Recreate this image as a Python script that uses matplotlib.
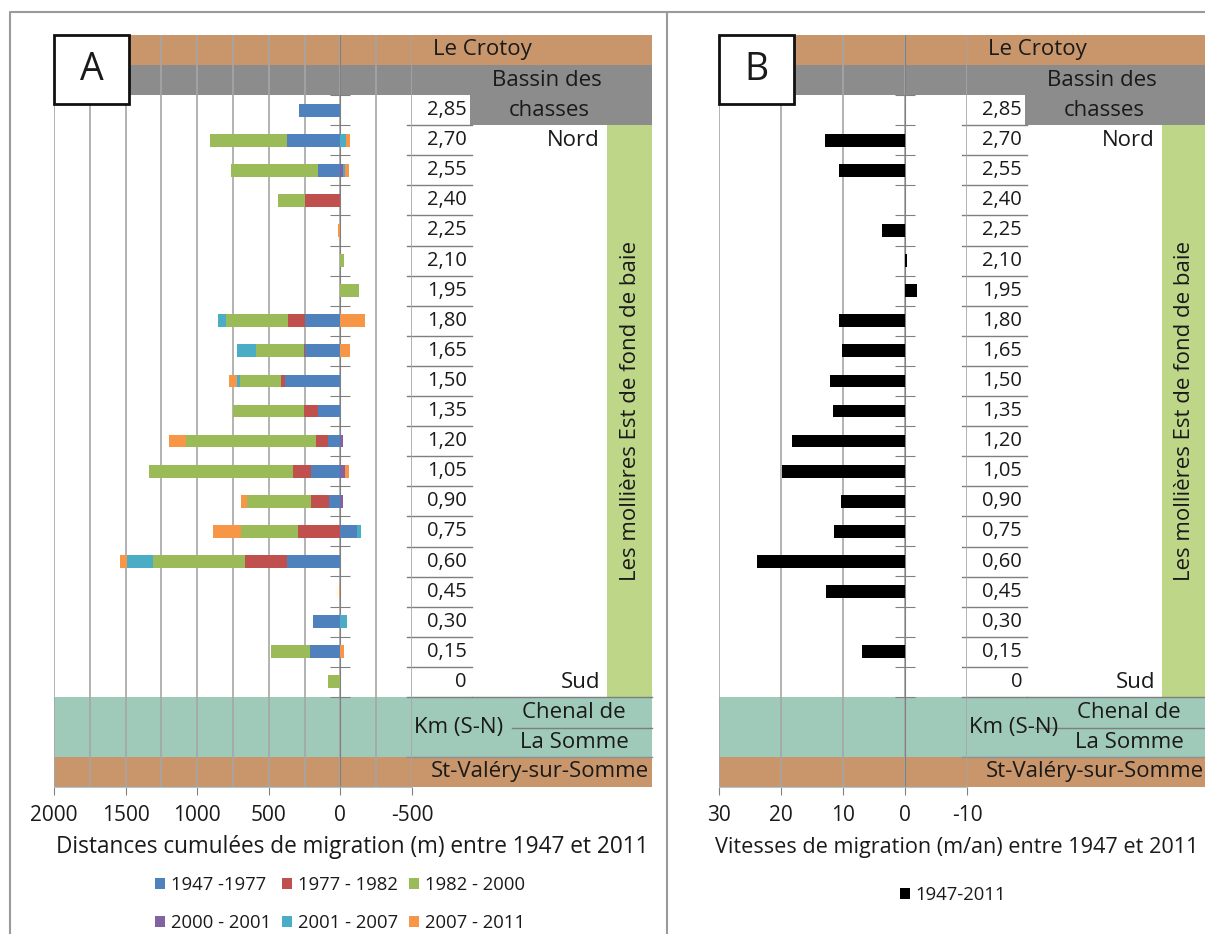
import numpy as np
import matplotlib
matplotlib.use("Agg")
import matplotlib.pyplot as plt
from matplotlib.patches import Rectangle

plt.rcParams['font.family'] = ['Open Sans', 'DejaVu Sans']

# km positions along the shore (S-N), top row first
km = [2.85, 2.70, 2.55, 2.40, 2.25, 2.10, 1.95, 1.80, 1.65, 1.50,
      1.35, 1.20, 1.05, 0.90, 0.75, 0.60, 0.45, 0.30, 0.15, 0.0]
km_labels = ['2,85', '2,70', '2,55', '2,40', '2,25', '2,10', '1,95', '1,80', '1,65', '1,50',
             '1,35', '1,20', '1,05', '0,90', '0,75', '0,60', '0,45', '0,30', '0,15', '0']

# Panel A: cumulated migration distances (m) per period
periods = ['1947 -1977', '1977 - 1982', '1982 - 2000', '2000 - 2001', '2001 - 2007', '2007 - 2011']
d_1947_1977 = [290, 372, 153, 0, 0, 0, 0, 245, 245, 389, 153, 89, 208, 83, -114, 372, 0, 194, 214, 0]
d_1977_1982 = [0, 0, 0, 245, 0, 0, 0, 122, 8, 28, 103, 78, 122, 122, 297, 292, 0, 0, 0, 0]
d_1982_2000 = [0, 538, 608, 192, 0, -22, -127, 433, 333, 283, 492, 908, 1008, 444, 397, 642, 0, 0, 272, 88]
d_2000_2001 = [0, 0, -15, 0, 0, 0, 0, 0, 0, 0, 0, -17, -30, -17, 0, 0, 0, 0, 0, 0]
d_2001_2007 = [0, -42, -20, 0, 0, 0, 0, 53, 133, 20, 0, 0, 0, 0, -33, 186, 0, -45, 0, 0]
d_2007_2011 = [0, -28, -25, 0, 20, 0, 0, -170, -64, 58, 0, 122, -33, 44, 197, 47, 10, 0, -25, 0]
series_a = [d_1947_1977, d_1977_1982, d_1982_2000, d_2000_2001, d_2001_2007, d_2007_2011]
colors_a = ['#4F81BD', '#C0504D', '#9BBB59', '#8064A2', '#4BACC6', '#F79646']

# Panel B: migration speed (m/an) 1947-2011
v_1947_2011 = [0, 12.9, 10.7, 0, 3.75, -0.3, -2.0, 10.65, 10.2, 12.1,
               11.6, 18.3, 19.8, 10.4, 11.5, 23.8, 12.8, 0, 7.0, 0]

W, H = 1205, 934
fig = plt.figure(figsize=(W / 100, H / 100), dpi=100)
TXT = '#1a1a1a'
ORANGE_BAND = '#C8966A'
GRAY_BAND = '#8C8C8C'
TEAL_BAND = '#9FC9B9'
GREEN_BAND = '#BDD687'
GRID = '#A6A6A6'
FS = 16


def px_axes(x0, y0, x1, y1, z):
    return fig.add_axes([x0 / W, 1 - y1 / H, (x1 - x0) / W, (y1 - y0) / H], zorder=z)


bg = px_axes(0, 0, W, H, 0)
bg.set_xlim(0, W)
bg.set_ylim(H, 0)
bg.axis('off')
fg = px_axes(0, 0, W, H, 3)
fg.set_xlim(0, W)
fg.set_ylim(H, 0)
fg.axis('off')
fg.patch.set_alpha(0)

# outer frame and separator
bg.plot([10, 10, W], [H, 12, 12], color='#9A9A9A', lw=1.5)
bg.plot([667, 667], [12, H], color='#9A9A9A', lw=1.5)

row_h = (697 - 95) / 20


def decorate(L, R, C, letter, line_start):
    # horizontal bands
    bg.add_patch(Rectangle((L, 35), R - L, 30, color=ORANGE_BAND, lw=0))
    bg.add_patch(Rectangle((L, 65), R - L, 30, color=GRAY_BAND, lw=0))
    bg.add_patch(Rectangle((C + 58, 95), R - C - 58, 30, color=GRAY_BAND, lw=0))
    bg.add_patch(Rectangle((R - 45, 125), 45, 572, color=GREEN_BAND, lw=0))
    bg.add_patch(Rectangle((L, 697), R - L, 60, color=TEAL_BAND, lw=0))
    bg.add_patch(Rectangle((L, 757), R - L, 30, color=ORANGE_BAND, lw=0))
    # km column
    for i, lab in enumerate(km_labels):
        yc = 95 + row_h * (i + 0.5)
        fg.text(C + 55, yc, lab, ha='right', va='center', fontsize=14.5, color=TXT)
        yb = 95 + row_h * (i + 1)
        bg.plot([C - 5, C + 60], [yb, yb], color='#7F7F7F', lw=1)
    bg.plot([C + 60, R], [697, 697], color='#7F7F7F', lw=1)
    bg.plot([C - 5, R], [757, 757], color='#8F8F8F', lw=1)
    bg.plot([line_start, R], [728, 728], color='#7F7F7F', lw=1)
    fg.text(C + 70, 50, 'Le Crotoy', ha='center', va='center', fontsize=FS, color=TXT)
    fg.text(C + 135, 80, 'Bassin des', ha='center', va='center', fontsize=FS, color=TXT)
    fg.text(C + 137, 110, 'chasses', ha='center', va='center', fontsize=FS, color=TXT)
    fg.text(R - 52, 141, 'Nord', ha='right', va='center', fontsize=FS, color=TXT)
    fg.text(R - 52, 682, 'Sud', ha='right', va='center', fontsize=FS, color=TXT)
    fg.text(R - 22, 411, 'Les mollières Est de fond de baie', ha='center', va='center',
            rotation=90, fontsize=FS, color=TXT)
    fg.text(C + 2, 727, 'Km (S-N)', ha='left', va='center', fontsize=FS, color=TXT)
    fg.text(C + 162, 713, 'Chenal de', ha='center', va='center', fontsize=FS, color=TXT)
    fg.text(C + 162, 742, 'La Somme', ha='center', va='center', fontsize=FS, color=TXT)
    fg.text(C + 19, 772, 'St-Valéry-sur-Somme', ha='left', va='center', fontsize=FS, color=TXT)
    # letter box
    fg.add_patch(Rectangle((L, 35), 75, 69, facecolor='white', edgecolor='#111111', lw=2))
    fg.text(L + 37.5, 70, letter, ha='center', va='center', fontsize=27, color=TXT)


def style_axes(ax, xlim, major, minor):
    ax.set_xlim(*xlim)
    ax.set_ylim(-0.525, 3.225)
    ax.patch.set_alpha(0)
    ax.set_xticks(major)
    ax.set_xticks(minor, minor=True)
    ax.grid(True, which='both', axis='x', color=GRID, lw=1.2, zorder=0)
    ax.set_axisbelow(True)
    for s in ['top', 'right']:
        ax.spines[s].set_visible(False)
    ax.spines['left'].set_position(('data', 0))
    ax.spines['left'].set_color('#808080')
    ax.spines['bottom'].set_color('#B0C4D0')
    ax.set_yticks(np.round(np.arange(-0.075, 2.93, 0.15), 3))
    ax.tick_params(axis='y', direction='inout', length=14, color='#808080', labelleft=False)
    ax.tick_params(axis='x', which='major', direction='out', length=6, color='#808080',
                   labelsize=15, labelcolor=TXT, pad=7)
    ax.tick_params(axis='x', which='minor', length=0)


# ---- Panel A ----
axA = px_axes(54, 35, 412, 787, 1)
bar_h = 0.064
pos = np.zeros(len(km))
neg = np.zeros(len(km))
handles = []
for vals, col, lab in zip(series_a, colors_a, periods):
    v = np.array(vals, dtype=float)
    left = np.where(v >= 0, pos, neg)
    h = axA.barh(km, v, left=left, height=bar_h, color=col, label=lab, zorder=3)
    handles.append(h)
    pos = pos + np.where(v >= 0, v, 0)
    neg = neg + np.where(v < 0, v, 0)
style_axes(axA, (2000, -500), [2000, 1500, 1000, 500, 0, -500], np.arange(-500, 2001, 250))
axA.set_xticklabels(['2000', '1500', '1000', '500', '0', '-500'])
decorate(54, 652, 412, 'A', 512)
bg.text(352, 847, 'Distances cumulées de migration (m) entre 1947 et 2011', ha='center',
        va='center', fontsize=16.3, color=TXT)
order = [0, 3, 1, 4, 2, 5]
fig.legend([handles[i] for i in order], [periods[i] for i in order], ncol=3,
           loc='center', bbox_to_anchor=(340 / W, 1 - 904 / H), frameon=False,
           fontsize=13.3, handlelength=0.55, handleheight=0.55, handletextpad=0.3,
           columnspacing=0.6, labelspacing=1.05, labelcolor=TXT)

# ---- Panel B ----
axB = px_axes(719, 35, 967, 787, 1)
vB = np.array(v_1947_2011, dtype=float)
hB = axB.barh(km, vB, height=bar_h, color='black', label='1947-2011', zorder=3)
style_axes(axB, (30, -10), [30, 20, 10, 0, -10], [30, 20, 10, 0, -10])
axB.set_xticklabels(['30', '20', '10', '0', '-10'])
decorate(719, 1207, 967, 'B', 1035)
bg.text(957, 847, 'Vitesses de migration (m/an) entre 1947 et 2011', ha='center',
        va='center', fontsize=15.6, color=TXT)
fig.legend([hB], ['1947-2011'], loc='center', bbox_to_anchor=(953 / W, 1 - 895 / H),
           frameon=False, fontsize=13.3, handlelength=0.55, handleheight=0.55,
           handletextpad=0.3, labelcolor=TXT)

fig.savefig('out.png', dpi=100)
